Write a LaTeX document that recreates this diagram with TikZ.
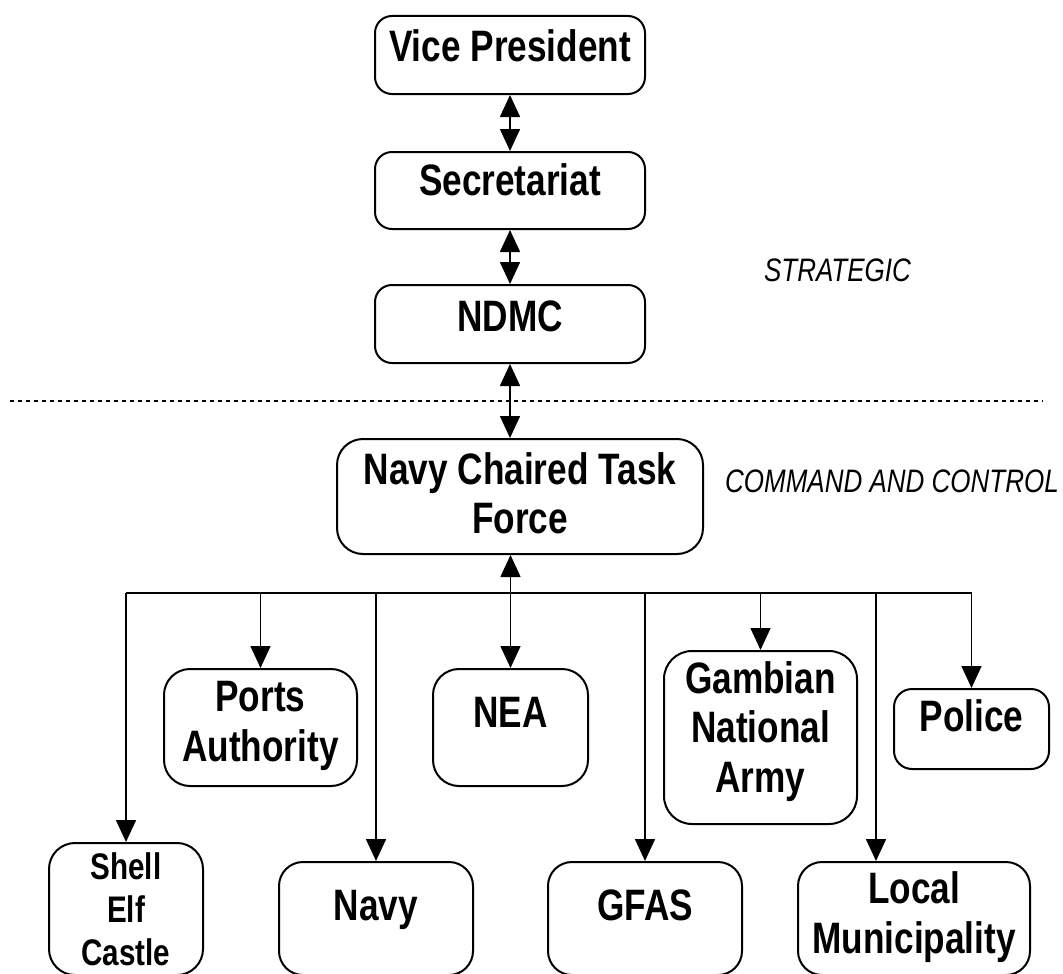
\documentclass[tikz,border=0pt]{standalone}
\usepackage{fontspec}
\newfontfamily\lab{Liberation Sans}[FakeStretch=0.8]
\usetikzlibrary{arrows.meta,calc}
\begin{document}
\begin{tikzpicture}[x=1pt,y=-1pt,
  box/.style={draw, line width=2pt, rounded corners=#1, inner sep=0pt},
  box/.default=18pt,
  title/.style={font=\lab\bfseries\fontsize{44}{49.5}\selectfont, align=center, inner sep=0pt, anchor=base},
  smalltitle/.style={font=\lab\bfseries\fontsize{37}{43}\selectfont, align=center, inner sep=0pt, anchor=base},
  tier/.style={font=\lab\itshape\fontsize{32.5}{38}\selectfont, inner sep=0pt, anchor=base},
  link/.style={line width=1.6pt, -{Triangle[length=22pt,width=20pt]}},
  duplex/.style={line width=1.6pt, {Triangle[length=22pt,width=20pt]}-{Triangle[length=22pt,width=20pt]}},
  bus/.style={line width=1.6pt},
  divider/.style={line width=1.4pt, dash pattern=on 3.5pt off 4.5pt}]
\useasboundingbox (0,0) rectangle (1063,974);

% strategic chain
\node[box=17pt, minimum width=270pt, minimum height=78pt] (vp) at (510,55) {};
\node[box=17pt, minimum width=270pt, minimum height=77pt] (sec) at (510,190.5) {};
\node[box=17pt, minimum width=270pt, minimum height=78pt] (ndmc) at (510,324) {};
\node[title] (vp-t) at ($(vp.north)+(0,47)$) {Vice President};
\node[title] (sec-t) at ($(sec.north)+(0,44)$) {Secretariat};
\node[title] (ndmc-t) at ($(ndmc.north)+(0,47)$) {NDMC};

% command and control (multi-line labels sit on the baseline of their last line)
\node[box=26pt, minimum width=366pt, minimum height=115pt] (nctf) at (520,496.5) {};
\node[title] (nctf-t) at ($(nctf.north)+(0,95.5)$) {Navy Chaired Task\\Force};

% agencies
\node[box=26pt, minimum width=193pt, minimum height=117pt] (ports) at (260.5,727.5) {};
\node[box=26pt, minimum width=155pt, minimum height=117pt] (nea) at (510.5,727.5) {};
\node[box=28pt, minimum width=193pt, minimum height=173pt] (gna) at (760.5,737.5) {};
\node[box=18pt, minimum width=155pt, minimum height=80pt] (police) at (971.5,729) {};
\node[box=26pt, minimum width=154pt, minimum height=132pt] (shell) at (126,909) {};
\node[box=24pt, minimum width=194pt, minimum height=113pt] (navy) at (376,918.5) {};
\node[box=24pt, minimum width=194pt, minimum height=113pt] (gfas) at (645,918.5) {};
\node[box=24pt, minimum width=232pt, minimum height=113pt] (local) at (914,918.5) {};

\node[title] (ports-t) at ($(ports.north)+(0,93)$) {Ports\\Authority};
\node[title] (nea-t) at ($(nea.north)+(0,59)$) {NEA};
\node[title] (gna-t) at ($(gna.north)+(0,142)$) {Gambian\\National\\Army};
\node[title] (police-t) at ($(police.north)+(0,43)$) {Police};
\node[smalltitle] (shell-t) at ($(shell.north)+(0,123)$) {Shell\\Elf\\Castle};
\node[title] (navy-t) at ($(navy.north)+(0,59)$) {Navy};
\node[title] (gfas-t) at ($(gfas.north)+(0,59)$) {GFAS};
\node[title] (local-t) at ($(local.north)+(0,92)$) {Local\\Municipality};

% tier labels and divider
\node[tier] (strat) at (837.5,281) {STRATEGIC};
\node[tier] (cc) at (892,492) {COMMAND AND CONTROL};
\coordinate (divL) at (10,401);
\coordinate (divR) at (1043,401);
\draw[divider] (divL) -- (divR);

% vertical links
\draw[duplex] (vp.south) -- (sec.north);
\draw[duplex] (sec.south) -- (ndmc.north);
\draw[duplex] (ndmc.south) -- (ndmc.south |- nctf.north);
\draw[duplex] (nea.north |- nctf.south) -- (nea.north);

% distribution bus
\coordinate (busline) at (0,593);
\coordinate (localdrop) at (876,593);
\draw[bus] (shell.north |- busline) -- (police.north |- busline);
\draw[link] (shell.north |- busline) -- (shell.north);
\draw[link] (ports.north |- busline) -- (ports.north);
\draw[link] (navy.north |- busline) -- (navy.north);
\draw[link] (gfas.north |- busline) -- (gfas.north);
\draw[link] (gna.north |- busline) -- (gna.north);
\draw[link] (localdrop) -- (localdrop |- local.north);
\draw[link] (police.north |- busline) -- (police.north);
\end{tikzpicture}
\end{document}
